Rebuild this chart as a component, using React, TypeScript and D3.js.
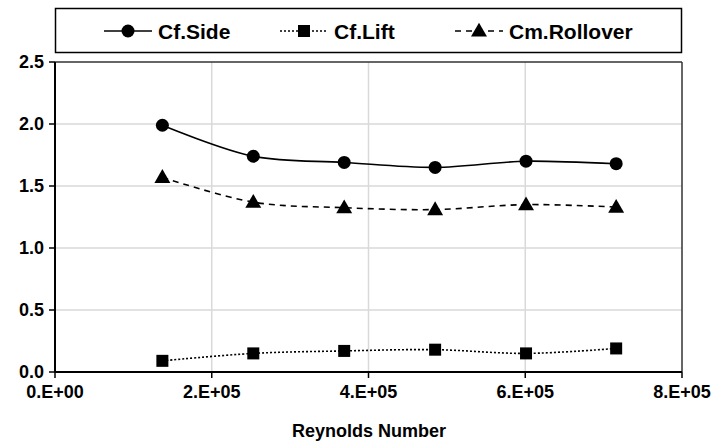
import React from "react";
import * as d3 from "d3";

const W = 713;
const H = 443;
const FONT = "'Liberation Sans', Arial, sans-serif";

// Reynolds numbers (x) and coefficients
const reynolds = [137000, 253000, 369000, 485000, 601000, 716000];
const cfSide = [1.99, 1.74, 1.69, 1.65, 1.7, 1.68];
const cfLift = [0.09, 0.15, 0.17, 0.18, 0.15, 0.19];
const cmRollover = [1.57, 1.37, 1.325, 1.31, 1.35, 1.33];

const xTicks = [0, 200000, 400000, 600000, 800000];
const xTickLabels = ["0.E+00", "2.E+05", "4.E+05", "6.E+05", "8.E+05"];
const yTicks = [0, 0.5, 1.0, 1.5, 2.0, 2.5];

const margin = { left: 55, right: 31, top: 62, bottom: 71 };

const x = d3.scaleLinear().domain([0, 800000]).range([margin.left, W - margin.right]);
const y = d3.scaleLinear().domain([0, 2.5]).range([H - margin.bottom, margin.top]);

const series = [
  { name: "Cf.Side", values: cfSide, dash: "none", marker: "circle", legendX: 104 },
  { name: "Cf.Lift", values: cfLift, dash: "2,2", marker: "square", legendX: 280 },
  { name: "Cm.Rollover", values: cmRollover, dash: "6,5", marker: "triangle", legendX: 455 },
];

const line = d3
  .line<[number, number]>()
  .x((d) => x(d[0]))
  .y((d) => y(d[1]))
  .curve(d3.curveCatmullRom.alpha(0.5));

const Marker = ({ type, cx, cy }: { type: string; cx: number; cy: number }) => {
  if (type === "circle") return <circle cx={cx} cy={cy} r={6.5} fill="#000" />;
  if (type === "square") return <rect x={cx - 6} y={cy - 6} width={12} height={12} fill="#000" />;
  const p = d3.symbol(d3.symbolTriangle, 110)();
  return <path d={p || ""} transform={`translate(${cx},${cy + 1})`} fill="#000" />;
};

export default function App() {
  const [x0, x1] = x.range();
  const [yb, yt] = y.range();
  return (
    <div style={{ position: "fixed", left: 0, top: 0 }}>
      <svg width={W} height={H} style={{ display: "block", background: "#fff" }} fontFamily={FONT}>
        {/* gridlines */}
        {yTicks.slice(1, -1).map((t) => (
          <line key={"gy" + t} x1={x0} x2={x1} y1={y(t)} y2={y(t)} stroke="#d9d9d9" strokeWidth={1.5} />
        ))}
        {xTicks.slice(1, -1).map((t) => (
          <line key={"gx" + t} x1={x(t)} x2={x(t)} y1={yt} y2={yb} stroke="#d9d9d9" strokeWidth={1.5} />
        ))}
        {/* frame */}
        <line x1={x0} x2={x1} y1={yt} y2={yt} stroke="#333" strokeWidth={1.5} />
        <line x1={x1} x2={x1} y1={yt} y2={yb} stroke="#333" strokeWidth={1.5} />
        <line x1={x0} x2={x0} y1={yt} y2={yb} stroke="#000" strokeWidth={2} />
        <line x1={x0} x2={x1} y1={yb} y2={yb} stroke="#000" strokeWidth={2} />
        {/* y ticks */}
        {yTicks.map((t) => (
          <g key={"ty" + t}>
            <line x1={x0 - 6} x2={x0} y1={y(t)} y2={y(t)} stroke="#000" strokeWidth={1.5} />
            <text x={x0 - 11} y={y(t)} dy="0.36em" textAnchor="end" fontSize={18} fontWeight="bold">
              {t.toFixed(1)}
            </text>
          </g>
        ))}
        {/* x ticks */}
        {xTicks.map((t, i) => (
          <g key={"tx" + t}>
            <line x1={x(t)} x2={x(t)} y1={yb} y2={yb + 6} stroke="#000" strokeWidth={1.5} />
            <text x={x(t)} y={yb + 26} textAnchor="middle" fontSize={18} fontWeight="bold">
              {xTickLabels[i]}
            </text>
          </g>
        ))}
        <text x={369} y={437} textAnchor="middle" fontSize={18} fontWeight="bold">
          Reynolds Number
        </text>
        {/* series */}
        {series.map((s) => {
          const pts = reynolds.map((r, i) => [r, s.values[i]] as [number, number]);
          return (
            <g key={s.name}>
              <path d={line(pts) || ""} fill="none" stroke="#000" strokeWidth={1.6} strokeDasharray={s.dash} />
              {pts.map((p, i) => (
                <Marker key={i} type={s.marker} cx={x(p[0])} cy={y(p[1])} />
              ))}
            </g>
          );
        })}
        {/* legend */}
        <rect x={55.5} y={8.5} width={626} height={44} fill="#fff" stroke="#000" strokeWidth={1.5} />
        {series.map((s) => (
          <g key={"lg" + s.name}>
            <line x1={s.legendX} x2={s.legendX + 48} y1={31} y2={31} stroke="#000" strokeWidth={1.6} strokeDasharray={s.dash} />
            <Marker type={s.marker} cx={s.legendX + 24} cy={31} />
            <text x={s.legendX + 54} y={31} dy="0.36em" fontSize={21} fontWeight="bold">
              {s.name}
            </text>
          </g>
        ))}
      </svg>
    </div>
  );
}
